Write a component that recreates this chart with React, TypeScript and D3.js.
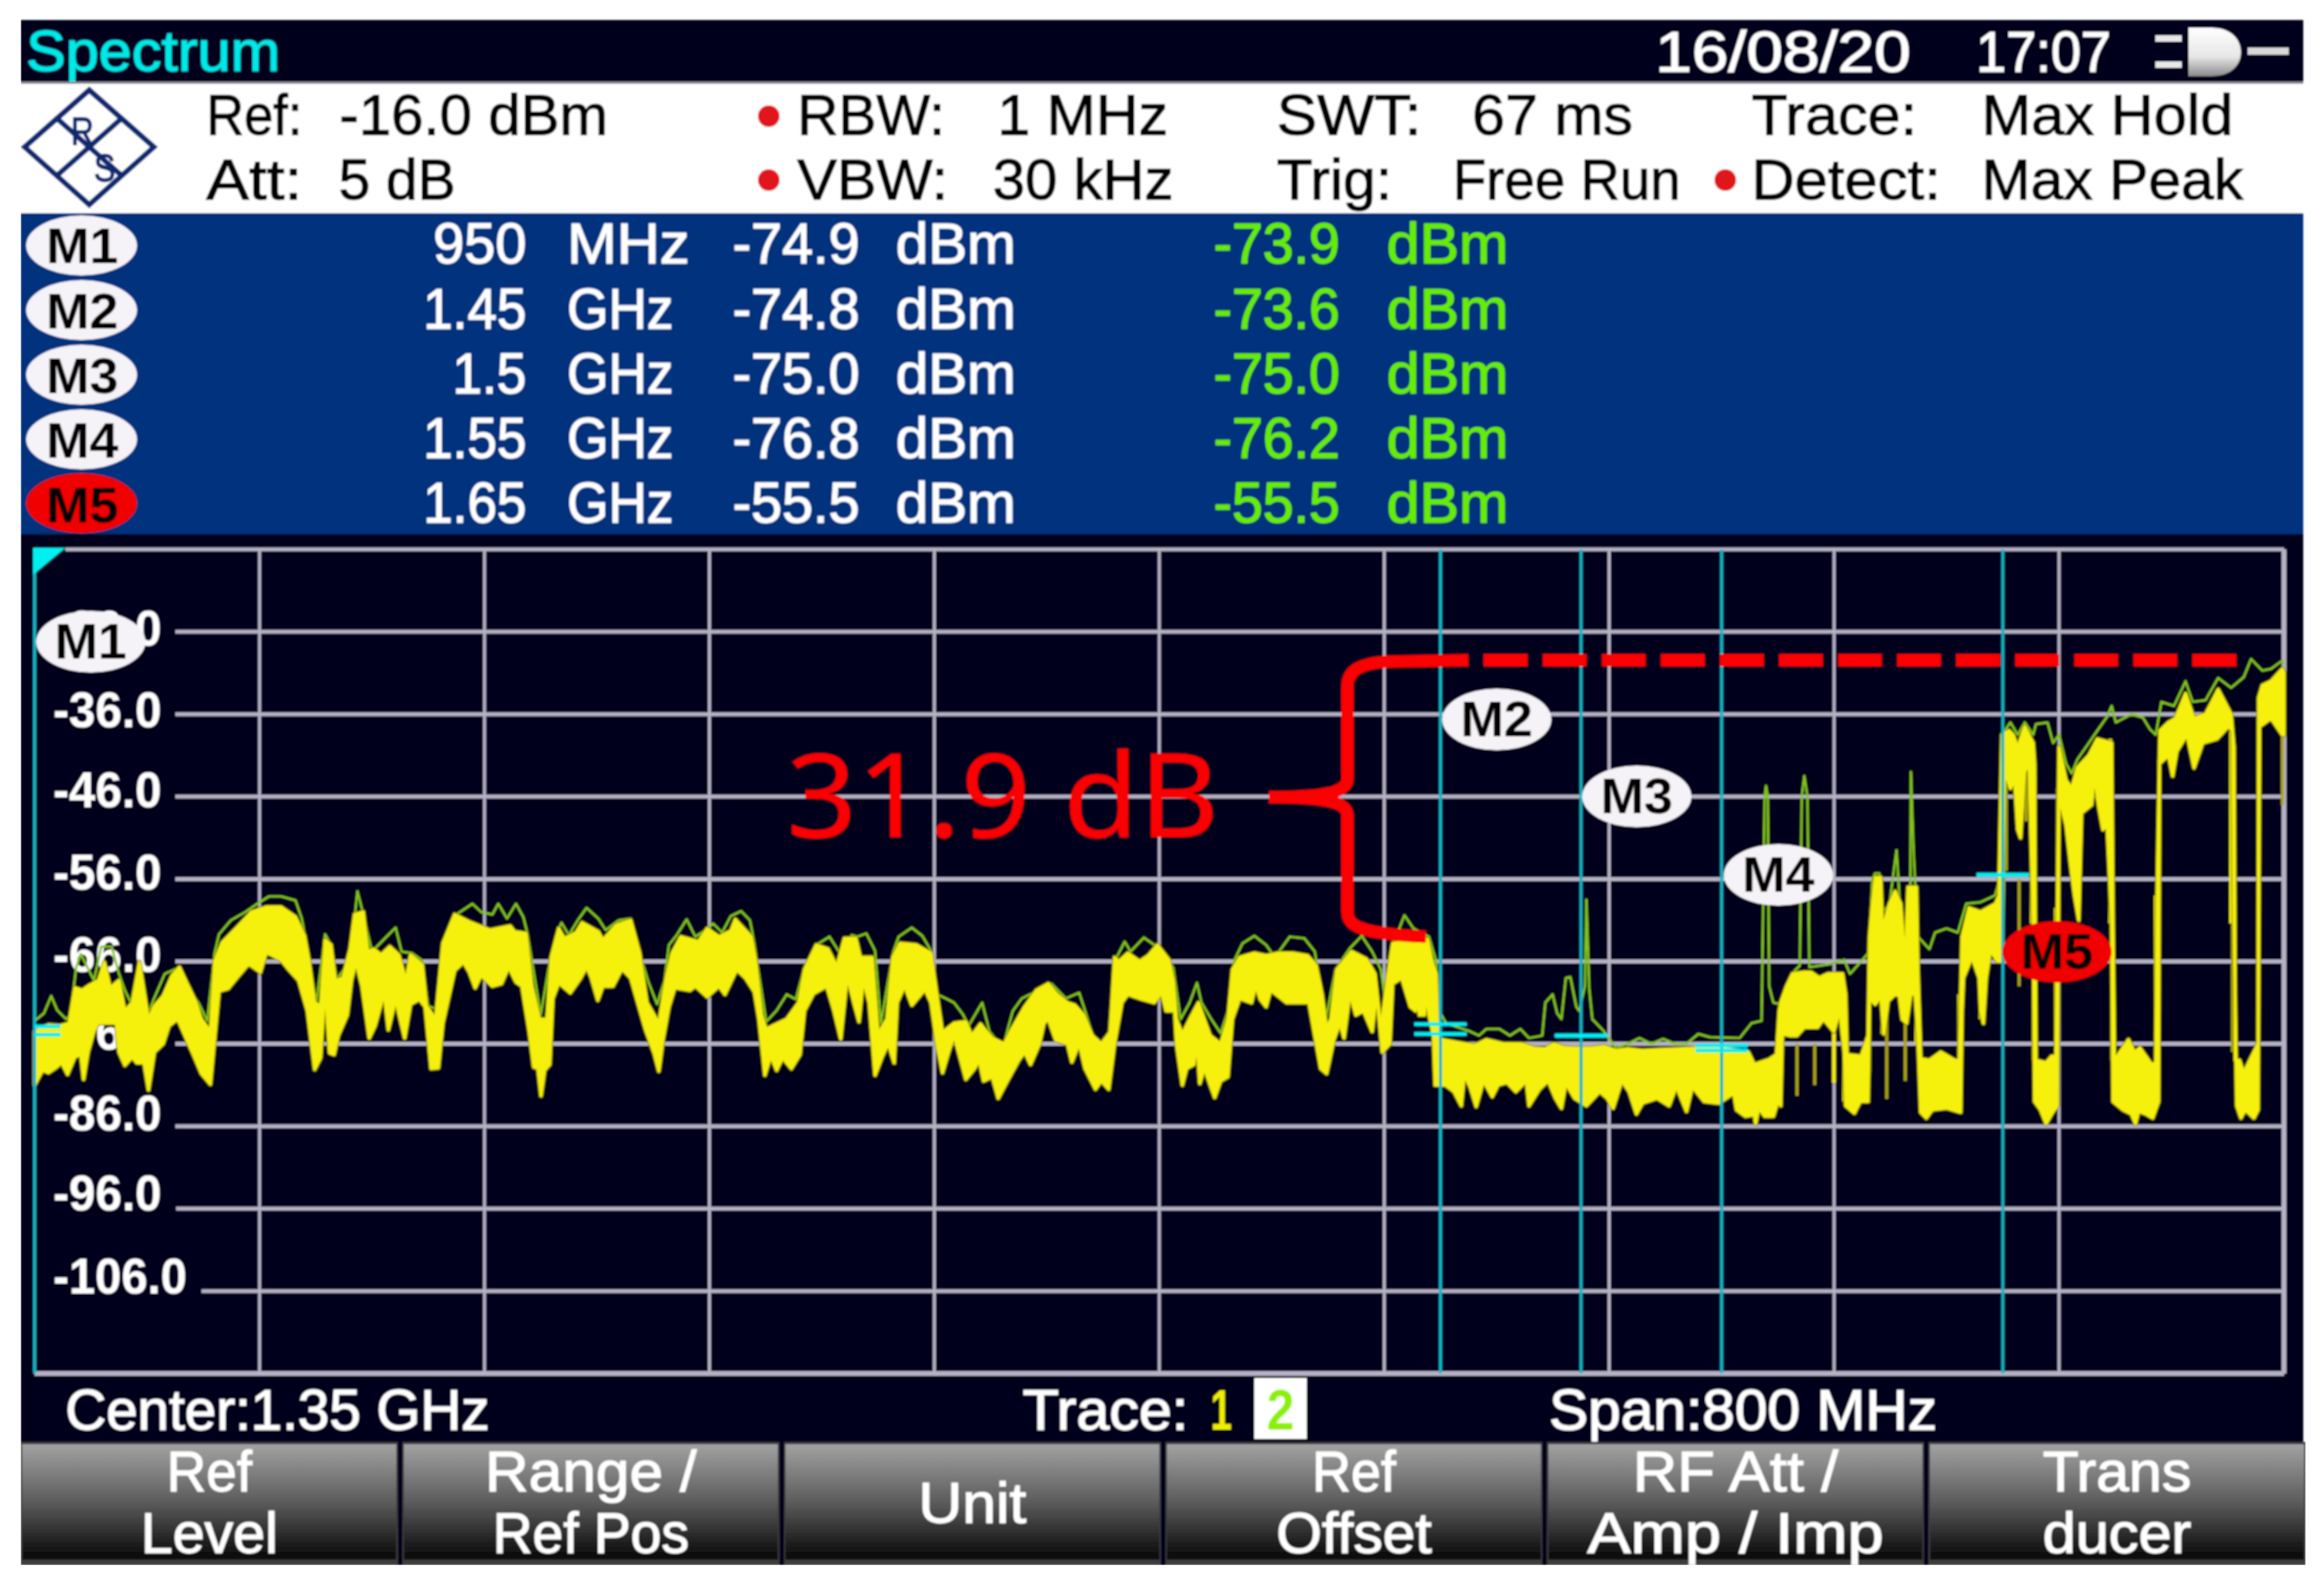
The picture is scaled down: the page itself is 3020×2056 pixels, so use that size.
import * as d3 from "d3";

type Pt = [number, number];

// marker table, read from the instrument readout
const markerNames = ["M1", "M2", "M3", "M4", "M5"];
const markerFreqs = [950, 1450, 1500, 1550, 1650];
const markerFreqText = ["950", "1.45", "1.5", "1.55", "1.65"];
const markerUnits = ["MHz", "GHz", "GHz", "GHz", "GHz"];
const trace1Levels = [-74.9, -74.8, -75.0, -76.8, -55.5];
const trace2Levels = [-73.9, -73.6, -75.0, -76.2, -55.5];

const yTicks = [-26, -36, -46, -56, -66, -76, -86, -96, -106];
const softKeys = [["Ref", "Level"], ["Range /", "Ref Pos"], ["Unit"], ["Ref", "Offset"], ["RF Att /", "Amp / Imp"], ["Trans", "ducer"]];
const softKeyWidths = [[111, 178], [275, 255], [140], [109, 202], [267, 385], [193, 193]];

// trace 1 (clear write), upper edge of the band [MHz, dBm]
const yellowUpper: Pt[] = [
  [950, -74.5], [954.9, -73.7], [959.1, -73.8], [962.2, -73.5], [964.3, -69.2], [966.9, -69.5], [969.5, -68.9], [972.7, -68.3], [974.8, -66.1], [976.9, -69.2], [980, -68.3], [982.1, -72], [984.7, -71], [987.3, -66.1], [990.5, -73], [992.6, -71.4], [995.7, -70.2], [998.9, -67.7], [1001.5, -66.7], [1004.1, -68.6], [1007.2, -70.8], [1009.3, -73], [1012.5, -74.5], [1014, -66], [1016.7, -63.7], [1021.9, -61.9], [1027.1, -60], [1032.4, -59.4], [1037.6, -59.4], [1042.8, -60.6], [1046, -62.9], [1047.6, -65.9], [1049.6, -71], [1051.7, -71.4], [1053.3, -63.4], [1055.4, -64], [1057, -68.3], [1059.6, -68], [1062.2, -64.5], [1063.8, -60.3], [1066.9, -60], [1068.5, -64.8], [1070.6, -64.5], [1073.2, -65.2], [1076.3, -64.2], [1079.5, -65.2], [1082.1, -68.3], [1083.7, -65.2], [1087.9, -66.4], [1089.4, -71.4], [1092.6, -73], [1095.2, -63.8], [1099.4, -60.3], [1104.6, -61.2],
  [1112, -62.2], [1119.1, -61.7], [1120.7, -62.4], [1124.8, -62.6], [1125.9, -66], [1126.9, -69], [1129.6, -73], [1132.2, -73], [1133.7, -65.5], [1136.4, -62], [1138.4, -63.2], [1142.6, -62.5], [1144.7, -61.3], [1150.5, -62.4], [1152.1, -63.4], [1156.8, -61.6], [1162, -61], [1165.2, -65], [1167.8, -71], [1172, -73.5], [1174.6, -68], [1176.7, -65], [1179.8, -63], [1186.1, -63.6], [1189.2, -62], [1193.4, -63], [1197.6, -62.3], [1199.2, -60.9], [1204.9, -63], [1206.5, -66], [1208.6, -72.6], [1210.2, -74.2], [1217.5, -73], [1221.7, -71], [1223.8, -67], [1228, -64], [1232.2, -64.5], [1235.3, -66.6], [1238, -63.2], [1242.1, -63.2], [1243.7, -65.5], [1247.9, -65.5], [1249.4, -72], [1250, -74.8], [1253.1, -73], [1255.2, -65.5], [1257.8, -63.8], [1263.6, -64], [1268.8, -65], [1270.9, -70], [1272.9, -74.6],
  [1277, -73.5], [1281.2, -73.3], [1283.3, -75], [1286.4, -73.6], [1288.5, -74.5], [1290.6, -75.3], [1294.8, -76], [1297.9, -74], [1302.1, -71.5], [1306.3, -69.5], [1310.5, -68.7], [1313.6, -70], [1317.3, -71], [1319.9, -71.3], [1323.1, -72.5], [1326.2, -75], [1329.4, -76], [1332.5, -74.6], [1334.1, -65.5], [1335.6, -66], [1338.8, -65], [1343, -66], [1346.1, -65.3], [1349.3, -64], [1353.4, -65.8], [1355, -68.3], [1356.1, -73], [1358.2, -74.8], [1360.8, -73], [1363.9, -71], [1366, -73], [1368.1, -75], [1371.8, -76], [1374.4, -73], [1376, -67], [1378.6, -65.5], [1383.8, -65], [1388, -65.3], [1392.2, -65], [1397.4, -65], [1402.7, -65.3], [1405.8, -66.5], [1407.9, -70], [1409.5, -74], [1411, -73], [1413.1, -67], [1418.4, -64.8], [1423.6, -65.7], [1426.7, -67.5], [1428.8, -74], [1432, -66], [1433, -63.8],
  [1441.2, -63.5], [1445.4, -63.3], [1447, -66], [1448.5, -67.5], [1449.1, -75], [1450.6, -75.5], [1462.1, -76.2], [1466.3, -75.5], [1472.6, -76], [1478.9, -76], [1483.1, -76.5], [1487.3, -76.6], [1490.4, -76], [1493.6, -76.4], [1496.7, -76.5], [1499.8, -76.5], [1504, -76.5], [1508.2, -76.3], [1512.4, -76.8], [1516.6, -76.6], [1521.8, -76.8], [1528.1, -76.7], [1535.4, -76.6], [1540.7, -76.5], [1550.1, -76.5], [1559.5, -77], [1561.6, -78.5], [1566.9, -77.9], [1569.5, -77.3], [1570.5, -72], [1571, -71], [1573.1, -69], [1575.2, -67.5], [1579.4, -67.3], [1581.8, -67.3], [1584.7, -68], [1587.8, -67.5], [1593, -67.5], [1594.1, -70], [1594.6, -77.3],
  [1599.6, -77.5], [1602.1, -75], [1602.6, -63], [1603.6, -59], [1604.6, -55.8], [1606.6, -55.8], [1607.2, -62], [1609.7, -59], [1611.7, -57.5], [1613.7, -59], [1615.3, -66], [1616.3, -57], [1619.3, -57], [1619.8, -67], [1620.8, -77.8], [1623.9, -78], [1627.9, -77], [1633, -78], [1634.5, -78], [1635, -71], [1635.5, -63], [1638, -59.5], [1642.1, -60], [1647.4, -59], [1648.6, -58], [1649.7, -38.5], [1652.2, -38], [1653.7, -38.5], [1655.3, -40], [1657.8, -37.5], [1660.8, -39.5], [1661.3, -42], [1661.5, -60], [1661.8, -78], [1665.4, -78.3], [1667.4, -77.5], [1668.9, -77.5], [1670, -40], [1672.5, -44], [1674.5, -45], [1676.5, -42.5], [1680.6, -41], [1683.6, -39], [1688.7, -39.5], [1689.2, -62], [1689.7, -78], [1694.7, -75.5], [1696.8, -77], [1698.8, -76.5], [1702.9, -78.5], [1704.4, -78.3], [1704.9, -58], [1705.9, -38], [1708.9, -37], [1711.4, -36.5], [1715, -33.5], [1718, -36.5], [1722.1, -36], [1726.6, -33], [1731.2, -36], [1732.2, -40], [1732.7, -78], [1734.2, -78], [1735.7, -79.5], [1739.3, -77], [1740.8, -76], [1741, -34], [1742.3, -32.5], [1745.4, -32], [1749.4, -30.5], [1750, -31],
];

// trace 1, lower edge of the band [MHz, dBm]
const yellowLower: Pt[] = [
  [950, -81], [952.8, -79.2], [954.9, -79.5], [957.5, -78.9], [959.6, -78.3], [961.7, -79.7], [964.3, -77.6], [966.4, -77.3], [967.4, -80.3], [969, -77], [971.1, -74.5], [972.4, -73.5], [979, -73.5], [980, -77], [982.1, -78.6], [984.7, -77.6], [986.3, -78.3], [988.9, -78.3], [990.5, -81.6], [992.6, -77], [995.7, -76], [997.8, -73.8], [1000.9, -73], [1004.1, -75.5], [1006.2, -77.1], [1009.3, -79.6], [1012.5, -80.9], [1014, -75.5], [1015.6, -69.6], [1018.8, -69.3], [1021.9, -68], [1026.1, -66.3], [1030.3, -67.3], [1032.4, -64.9], [1037.6, -65.8], [1040.7, -67.1], [1043.9, -68.3], [1047, -72], [1049.6, -79.1], [1051.7, -77.7], [1053.3, -69.2], [1054.9, -77.1], [1056.5, -77.3], [1058, -75], [1061.2, -72.5], [1062.7, -68.3], [1064.3, -66.1], [1066.4, -69], [1069, -75.3], [1071.1, -73.8], [1074.3, -69.9], [1075.8, -74.3], [1078.4, -70.7], [1081.6, -75.3], [1083.7, -71.2], [1086.8, -70.6], [1088.9, -71.5], [1091, -79], [1093.6, -78.9], [1095.2, -73.5], [1099.4, -67.1], [1102.5, -66.1], [1104.6, -67.3], [1106.7, -69.2], [1108.8, -67.7],
  [1112.8, -69], [1116, -68.7], [1118.6, -66.7], [1121.2, -68.5], [1123.3, -69], [1125.9, -74.5], [1127.5, -78.8], [1129, -79], [1130.1, -82.3], [1131.4, -79.2], [1133.2, -78.5], [1134.3, -70.5], [1136.4, -68.6], [1140.5, -69.8], [1144.2, -68], [1146.3, -66.7], [1147.9, -67.9], [1150.3, -70.7], [1152.1, -69], [1155.7, -69], [1158.9, -66.9], [1162, -68], [1164.1, -70.5], [1167.3, -74.3], [1170.4, -77.2], [1172, -79.3], [1173.5, -75.5], [1175.6, -71.5], [1177.7, -69.2], [1183, -69.5], [1185, -69], [1189.2, -70.3], [1193.4, -69], [1195.5, -70], [1199.7, -67], [1202.8, -68], [1206, -69.7], [1207.6, -73], [1209.7, -79.8], [1211.8, -77.5], [1213.9, -79.2], [1216, -77.7], [1219.1, -79], [1222.2, -77.3], [1223.8, -72], [1227, -69.9], [1231.7, -69], [1234.3, -72], [1236.7, -75.4], [1239, -67.9], [1241.6, -71.3], [1243.2, -73.3], [1244.7, -68.3], [1246.8, -71], [1248.9, -79.8], [1251.5, -77.5], [1253.6, -76], [1255.7, -78.3], [1256.8, -71], [1259.4, -69], [1262, -71.3], [1266.7, -69.4], [1268.8, -71], [1270.9, -76], [1272.9, -79.5], [1275.1, -77],
  [1277, -75], [1281.2, -80.3], [1284.3, -79], [1285.9, -78], [1287.5, -80.5], [1290.6, -80], [1292.7, -82.6], [1295.8, -80.6], [1300, -78], [1302.1, -77], [1304.2, -78.5], [1307.4, -76], [1309, -73.5], [1310.5, -73], [1313.1, -75.5], [1317.3, -76], [1318.9, -78.2], [1321.5, -76], [1323.6, -79], [1327.3, -81.5], [1329.4, -80.5], [1332, -81.5], [1334.1, -76], [1336.7, -71], [1338.8, -70], [1343, -70.5], [1348.2, -71], [1350.8, -69.8], [1352.4, -72], [1355.5, -72], [1356.1, -76], [1358.2, -81], [1359.7, -79], [1362.3, -78.5], [1363.4, -76], [1364.4, -80.8], [1366, -79], [1369.7, -82.5], [1371.8, -80.5], [1374.4, -80], [1376, -73], [1378.6, -70.5], [1382.8, -71], [1384.3, -69], [1385.9, -70.6], [1388, -71.5], [1389.6, -69.5], [1395.3, -71], [1400.6, -71], [1403.2, -71], [1405.3, -75], [1407.4, -79], [1409.5, -79.6], [1412.1, -75.5], [1414.2, -73.5], [1415.7, -75.3], [1417.8, -70], [1419.9, -72.5], [1422.6, -72], [1425.7, -74.5], [1427.3, -70], [1429.3, -77], [1432, -76], [1433, -68.7], [1436.2, -68], [1439.3, -71.5],
  [1441.2, -72], [1441.7, -70], [1442.5, -72.5], [1444.3, -72.5], [1445, -70], [1445.9, -72.5], [1447.5, -75], [1448.1, -81], [1451.7, -81], [1454.8, -81.8], [1457.4, -83.5], [1458.5, -79.8], [1460.6, -81.3], [1462.7, -83.6], [1465.3, -80.5], [1468.4, -82.4], [1470.5, -81], [1473.7, -80.7], [1476.8, -81.8], [1480.5, -80.5], [1481.5, -83.5], [1485.2, -81.5], [1488.3, -80.5], [1490.9, -82.6], [1493, -83.8], [1494.6, -80.8], [1497.7, -82.6], [1501.9, -83.5], [1506.6, -81.8], [1509.3, -82.6], [1511.4, -83.8], [1514.5, -80.5], [1517.1, -81.8], [1519.7, -84.5], [1521.8, -83.2], [1527, -82.6], [1531.3, -83.5], [1533.9, -81.2], [1537.5, -84.2], [1539.6, -81.2], [1543.8, -83], [1549, -83.2], [1554.3, -82], [1555.3, -84], [1558.5, -84.8], [1561.6, -84.6], [1562.1, -85.7], [1563.2, -83.8], [1565.3, -84.8], [1568.4, -84.8], [1570, -83], [1571, -83.5], [1571.6, -74.8], [1574.2, -75], [1576.8, -75], [1579.4, -74], [1581.8, -74], [1584.1, -74], [1586.2, -73], [1589.9, -74.5], [1592, -72], [1593.6, -77], [1594.1, -83.5],
  [1597.2, -84.4], [1599.3, -83], [1602.1, -83], [1602.6, -70.5], [1604.6, -71.2], [1606.6, -70.3], [1607.7, -74.8], [1609.2, -70.8], [1611.7, -70], [1613.2, -70.2], [1614.2, -73], [1615.8, -73.5], [1617.3, -70], [1618.8, -70], [1619.8, -75], [1620.8, -84.3], [1622.8, -85], [1624.9, -84], [1630, -83.8], [1635, -84.3], [1635.5, -72], [1636, -68], [1639, -65.5], [1641.6, -68], [1642.1, -72], [1643.1, -73.5], [1644.1, -68], [1645.6, -64.7], [1648.2, -66], [1649.7, -66], [1650.7, -43], [1652.7, -45], [1654.2, -44], [1655.3, -50], [1656.3, -51], [1657.8, -43], [1659.3, -42], [1660.8, -61], [1661.3, -83], [1663.4, -84], [1665.4, -85.7], [1667.4, -84.5], [1669.4, -83.5], [1670, -46], [1672.5, -49.5], [1674, -54], [1675.5, -58], [1677, -61], [1678, -48], [1681.6, -47], [1682.6, -43.5], [1684, -47], [1685.6, -50], [1687.1, -49.5], [1688.7, -61], [1689.2, -83], [1692.7, -84], [1695.7, -84.5], [1697.2, -85.7], [1698.3, -84.2], [1700.8, -84.5], [1703.3, -85], [1705.4, -83], [1705.7, -42], [1708.9, -41], [1710.4, -43.5], [1711.9, -40.5], [1715.5, -38.5], [1718, -42.5], [1721.1, -39.5], [1726.1, -39], [1730.2, -37.5], [1731.7, -38], [1732.2, -61], [1733.2, -83.5], [1734.7, -85], [1736.2, -84], [1739.3, -85], [1740.8, -84], [1741.3, -37.5], [1745.4, -36.5], [1749.4, -38.5], [1750, -38.5],
];

// trace 2 (max hold) [MHz, dBm]
const maxHold: Pt[] = [
  [950, -73.2], [953.3, -72.3], [955.9, -70.2], [958, -71.9], [961.2, -73], [962.7, -72.5], [964.8, -66.7], [966.4, -65.1], [971.1, -68.3], [973.7, -64.2], [977.4, -64.2], [980, -67.5], [982.1, -69.5], [984.2, -71], [987.3, -65.9], [990, -72.6], [992.6, -70.4], [996.3, -67.5], [1001.5, -66.7], [1005.1, -69.5], [1008.3, -71], [1011.4, -73.2], [1014, -65], [1015.6, -62.7], [1019.8, -61], [1025, -60], [1029.2, -59], [1033.4, -58.1], [1037.6, -58.1], [1042.8, -58.6], [1045, -60.8], [1047.6, -65.5], [1050.2, -71], [1053.3, -62.7], [1055.4, -64], [1057.5, -68.1], [1062.2, -66], [1064.8, -57.5], [1066.9, -60.3], [1070, -64.8], [1074.3, -63.3], [1078.4, -61.9], [1080.5, -64.8], [1084.2, -65], [1087.9, -65.9], [1090, -71.4], [1093.1, -71.8], [1096.2, -62.9], [1100.4, -60.2], [1105.7, -59], [1108.8, -60], [1112.8, -60.3],
  [1114.9, -59], [1118, -60.8], [1121.2, -59], [1123.8, -60.6], [1125.4, -62.8], [1126.9, -66], [1130, -72.5], [1133.2, -66], [1135.3, -62.9], [1137.4, -61.3], [1140, -62.8], [1143.2, -61], [1146.3, -59.5], [1150.5, -60.8], [1153.1, -62.2], [1157.8, -61], [1162, -60.8], [1165.2, -65], [1168.3, -68.5], [1171.4, -71.2], [1174, -68.3], [1175.6, -64], [1178.2, -62.9], [1181.9, -60.9], [1185, -63], [1188.2, -62.3], [1191.3, -61.4], [1194.5, -62.5], [1197.6, -60.5], [1201.3, -59.9], [1204.4, -61], [1206, -63.8], [1208.1, -68.6], [1210.2, -73.3], [1213.8, -72], [1217.5, -70], [1220.7, -70.6], [1223.8, -66.6], [1228, -64], [1232.7, -63], [1236.4, -65], [1240.6, -62.8], [1242.6, -63], [1245.8, -62.6], [1248.9, -64.7], [1251, -73.5], [1255.2, -65], [1257.3, -63], [1262, -61.9], [1265.7, -62.9], [1268.8, -64.7], [1271, -70], [1274.1, -70.5],
  [1277, -71], [1280.1, -72.4], [1282.2, -73.8], [1287, -71], [1289.6, -74.5], [1294.3, -76.5], [1297.9, -72], [1301.1, -70.5], [1305.3, -69.8], [1311.6, -68.7], [1316.8, -70.5], [1321.5, -69.8], [1323.6, -72], [1326.2, -74.8], [1328.8, -76], [1332, -74.6], [1334.1, -66], [1337.7, -63.6], [1339.8, -64.8], [1344.5, -63.1], [1348.2, -64], [1352.4, -65.2], [1355, -66.8], [1357.6, -73], [1360.8, -71], [1363.4, -68.6], [1365, -71], [1368.1, -72.8], [1371.8, -74.7], [1374.4, -72], [1376.5, -66], [1379.6, -63.8], [1383.8, -62.9], [1388, -64], [1391.1, -65.5], [1396.4, -63], [1401.6, -63.2], [1405.3, -64.8], [1406.8, -68], [1409.5, -72.6], [1412.6, -67], [1417.8, -64.4], [1422, -62.9], [1425.7, -64.8], [1428.8, -67], [1430.4, -71], [1433, -64], [1437.2, -60.4], [1440.4, -62],
  [1445.9, -63], [1448.5, -66], [1449.5, -72], [1452, -73.5], [1460.6, -74.5], [1463.7, -75], [1466.3, -74.2], [1471, -74.2], [1474.7, -75], [1478.4, -74.2], [1481.5, -75.3], [1486.2, -75], [1487.3, -71], [1489.9, -70], [1491.5, -72.3], [1493, -73], [1494.6, -68], [1496.2, -67.9], [1498.3, -71.5], [1499.3, -72], [1501.4, -69], [1501.9, -58.5], [1502.9, -69.3], [1504, -73], [1508.2, -74.5], [1512.4, -76.5], [1516.6, -76], [1520.8, -75.3], [1525, -76], [1529.2, -75.4], [1533.4, -76], [1537.5, -76], [1541.7, -74.8], [1545.9, -75.2], [1556.4, -75.3], [1560.6, -73.5], [1564.2, -73.2], [1565.3, -46], [1565.8, -44.7], [1566.4, -46], [1566.9, -69], [1568.4, -71], [1571, -71.2], [1573.1, -69.5], [1575.8, -67.2], [1577.8, -66.5], [1578.5, -46], [1579.4, -43.5], [1580.5, -46], [1581.2, -66.7], [1585.2, -66.5], [1588.8, -66.3], [1593.6, -65.8], [1595.6, -67.5],
  [1596.5, -67.2], [1600.6, -65.6], [1602.1, -65], [1603.6, -56], [1604.6, -55.3], [1606.1, -55.3], [1607.2, -60], [1609.7, -59], [1612.2, -52.5], [1613.2, -58], [1614.7, -64], [1617.1, -60], [1617.3, -43], [1618.3, -53], [1619.8, -63], [1623.9, -64.5], [1625.9, -62.5], [1630, -62], [1634, -62.5], [1637, -59], [1642.1, -58.8], [1647.2, -58], [1649.2, -55.6], [1649.7, -38.5], [1652.7, -37], [1655.3, -38.5], [1657.8, -37], [1660.8, -38.5], [1661.8, -37.2], [1665.9, -37], [1667.9, -39.5], [1670, -38.5], [1672.5, -42], [1674.5, -43.2], [1676.5, -41.5], [1680.6, -39.5], [1683.6, -38], [1687.1, -36.3], [1688.7, -35], [1690.2, -37], [1695.7, -36], [1699.8, -36.4], [1702.3, -37.8], [1704.4, -38.5], [1706.4, -34.5], [1710.9, -35], [1715, -32], [1717.5, -34.5], [1722.1, -34.3], [1726.6, -31.6], [1731.2, -32.8], [1735.7, -31.5], [1738.3, -29.3], [1742.3, -30.7], [1745.4, -30.5], [1749.4, -29.5], [1750, -30],
];

// thin vertical excursions of trace 1 [MHz, top dBm, bottom dBm]
const oliveStems: [number, number, number][] = [
  [1576.8, -76, -82.3], [1583.1, -76, -81], [1602.6, -70.5, -79.5], [1608.7, -70, -82.7], [1615.3, -70, -80.5], [1635.5, -63, -72], [1651.2, -43, -55], [1655.8, -56, -69], [1658.3, -43, -49], [1660.8, -61.4, -78], [1669.4, -45, -59.5], [1677, -48, -61], [1688.7, -61.4, -78], [1705.4, -41.5, -58], [1731.7, -61.4, -77], [1740.8, -37, -77.5], [1749.4, -38.5, -47],
];
const brightStems: [number, number, number][] = [
  [1589.9, -74.5, -80.7], [1593.6, -71.4, -83], [1602.4, -74, -80], [1607.2, -70, -74.8], [1619.3, -66, -76], [1634.5, -70, -84], [1642.1, -66, -73], [1660.3, -40, -61.4], [1668.9, -59.5, -78], [1688.2, -39, -61.4], [1704.4, -58, -78], [1731.2, -37, -61.4],
];

// peak and valley levels the annotation points at
const gapTop = -29.45;
const gapBottom = -63;

const W = 3020;
const H = 2056;
const plot = { left: 45, right: 2968, top: 714, bottom: 1785 };
const x = d3.scaleLinear().domain([950, 1750]).range([plot.left, plot.right]);
const y = d3.scaleLinear().domain([-16, -116]).range([plot.top, plot.bottom]);
const xGrid = d3.range(950, 1751, 80);
const yGridLeft = [228, 228, 228, 228, 228, 228, 228, 229, 262];
const yLabelDy = [18, 17, 14, 14, 13, 7, 5, 2, 3];

const line = d3.line<Pt>().x((d) => x(d[0])).y((d) => y(d[1]));
const bandPath = line(yellowUpper) + "L" + line([...yellowLower].reverse())!.slice(1) + "Z";

const FONT = "'Liberation Sans', Arial, sans-serif";
const BG = "#00001a";
const GRID = "#b6b2c6";
const CURSOR = "#12b2c4";

function T(props: { x: number; y: number; w?: number; size?: number; fill?: string; anchor?: string; weight?: string; children: any }) {
  const { x: tx, y: ty, w, size = 75, fill = "#fff", anchor = "start", weight = "normal", children } = props;
  return (
    <text x={tx} y={ty} fontSize={size} fill={fill} textAnchor={anchor} fontWeight={weight} fontFamily={FONT}
      stroke={weight === "bold" ? "none" : fill} strokeWidth={1.3}
      {...(w ? { textLength: w, lengthAdjust: "spacingAndGlyphs" } : {})}>
      {children}
    </text>
  );
}

function Oval({ cx, cy, name, red }: { cx: number; cy: number; name: string; red?: boolean }) {
  return (
    <g>
      <ellipse cx={cx} cy={cy} rx={71} ry={40} fill={red ? "#f00000" : "#f5f3f7"} />
      <T x={cx} y={cy + 22} w={94} size={64} fill="#000" anchor="middle" weight="bold">{name}</T>
    </g>
  );
}

const rowBase = [342, 427, 511, 595, 679];
const rowOval = [319, 403, 487, 571, 654];
const freqW = [121, 134, 96, 134, 134];
const plotOvals: Pt[] = [[118, 834], [1945, 935], [2127, 1035], [2311, 1137], [2673, 1237]];

export default function App() {
  const dashes = d3.range(13).map((i) => 1928 + i * 76.75);
  return (
    <svg width={W} height={H} viewBox={`0 0 ${W} ${H}`} style={{ position: "absolute", left: 0, top: 0, background: "#fff" }}>
      <defs>
        <filter id="soft" x="0" y="0" width="100%" height="100%">
          <feGaussianBlur stdDeviation="1" />
        </filter>
        <linearGradient id="key" x1="0" y1="0" x2="0" y2="1">
          <stop offset="0" stopColor="#a2a2a2" />
          <stop offset="0.5" stopColor="#5c5c5c" />
          <stop offset="1" stopColor="#060606" />
        </linearGradient>
        <linearGradient id="plug" x1="0" y1="0" x2="0" y2="1">
          <stop offset="0" stopColor="#ffffff" />
          <stop offset="0.6" stopColor="#e6e6e6" />
          <stop offset="1" stopColor="#8c8c8c" />
        </linearGradient>
      </defs>
      <g filter="url(#soft)">
        <rect x={27} y={26} width={2966} height={2008} fill={BG} />
        {/* title bar */}
        <T x={34} y={92} w={330} fill="#00e8e8">Spectrum</T>
        <T x={2151} y={93} w={332}>16/08/20</T>
        <T x={2568} y={93} w={175}>17:07</T>
        <rect x={2801} y={46} width={34} height={8} fill="#e8e8e8" />
        <rect x={2801} y={80} width={34} height={8} fill="#e8e8e8" />
        <path d="M2844,36 H2874 C2900,36 2912,52 2912,68 C2912,84 2900,99 2874,99 H2844 Z" fill="url(#plug)" />
        <rect x={2921} y={62} width={53} height={9} fill="#d8d8d8" />

        {/* settings strip */}
        <rect x={27} y={108} width={2966} height={169} fill="#fff" />
        <rect x={27} y={106} width={2966} height={3} fill="#8a8a94" />
        <g stroke="#0e2a72" strokeWidth={7} fill="none">
          <path d="M116,117 L200,191 L116,266 L32,191 Z" />
          <path d="M73,153 L159,229" />
          <path d="M159,153 L73,229" />
        </g>
        <T x={92} y={188} size={50} w={30} fill="#0e2a72">R</T>
        <T x={122} y={236} size={50} w={28} fill="#0e2a72">S</T>
        <T x={268} y={175} w={125} fill="#000">Ref:</T>
        <T x={441} y={175} w={349} fill="#000">-16.0 dBm</T>
        <T x={268} y={259} w={125} fill="#000">Att:</T>
        <T x={440} y={259} w={152} fill="#000">5 dB</T>
        <circle cx={999} cy={151} r={14} fill="#e0141c" />
        <circle cx={999} cy={234} r={14} fill="#e0141c" />
        <circle cx={2242} cy={234} r={14} fill="#e0141c" />
        <T x={1036} y={175} w={192} fill="#000">RBW:</T>
        <T x={1296} y={175} w={222} fill="#000">1 MHz</T>
        <T x={1036} y={259} w={196} fill="#000">VBW:</T>
        <T x={1290} y={259} w={235} fill="#000">30 kHz</T>
        <T x={1659} y={175} w={188} fill="#000">SWT:</T>
        <T x={1913} y={175} w={209} fill="#000">67 ms</T>
        <T x={2276} y={175} w={215} fill="#000">Trace:</T>
        <T x={2575} y={175} w={327} fill="#000">Max Hold</T>
        <T x={1659} y={259} w={150} fill="#000">Trig:</T>
        <T x={1888} y={259} w={296} fill="#000">Free Run</T>
        <T x={2276} y={259} w={246} fill="#000">Detect:</T>
        <T x={2575} y={259} w={340} fill="#000">Max Peak</T>

        {/* marker table */}
        <rect x={27} y={277} width={2966} height={417} fill="#00307e" />
        {markerNames.map((name, i) => (
          <g key={name}>
            <ellipse cx={106} cy={rowOval[i]} rx={72} ry={39} fill={i === 4 ? "#f00000" : "#f5f3f7"} />
            <T x={107} y={rowBase[i]} w={94} size={64} fill="#000" anchor="middle" weight="bold">{name}</T>
            <T x={684} y={rowBase[i]} w={freqW[i]} anchor="end">{markerFreqText[i]}</T>
            <T x={737} y={rowBase[i]} w={markerUnits[i] === "MHz" ? 159 : 138}>{markerUnits[i]}</T>
            <T x={952} y={rowBase[i]} w={165}>{trace1Levels[i].toFixed(1)}</T>
            <T x={1164} y={rowBase[i]} w={156}>dBm</T>
            <T x={1577} y={rowBase[i]} w={164} fill="#66ee00">{trace2Levels[i].toFixed(1)}</T>
            <T x={1802} y={rowBase[i]} w={158} fill="#66ee00">dBm</T>
          </g>
        ))}

        {/* graticule */}
        {yTicks.map((v, i) => (
          <line key={v} x1={yGridLeft[i]} x2={plot.right} y1={y(v)} y2={y(v)} stroke={GRID} strokeWidth={5} />
        ))}
        <line x1={85} x2={plot.right} y1={plot.top} y2={plot.top} stroke={GRID} strokeWidth={5} />
        <line x1={plot.left} x2={plot.right} y1={plot.bottom} y2={plot.bottom} stroke={GRID} strokeWidth={6} />
        {xGrid.slice(1).map((f) => (
          <line key={f} x1={x(f)} x2={x(f)} y1={plot.top} y2={plot.bottom} stroke={GRID} strokeWidth={f === 1750 ? 6 : 4} />
        ))}
        {yTicks.map((v, i) => (
          <T key={v} x={69} y={y(v) + yLabelDy[i]} w={v === -106 ? 174 : 141} size={64} weight="bold">{v.toFixed(1)}</T>
        ))}

        {/* traces */}
        <path d={line(maxHold)!} fill="none" stroke="#82c41c" strokeWidth={3} strokeLinejoin="round" />
        {oliveStems.map((d, i) => (
          <line key={i} x1={x(d[0])} x2={x(d[0])} y1={y(d[1])} y2={y(d[2])} stroke="#aaa212" strokeWidth={4} />
        ))}
        {brightStems.map((d, i) => (
          <line key={i} x1={x(d[0])} x2={x(d[0])} y1={y(d[1])} y2={y(d[2])} stroke="#f4ec10" strokeWidth={5} />
        ))}
        <path d={bandPath} fill="none" stroke="#8e8a10" strokeWidth={6} strokeLinejoin="round" />
        <path d={bandPath} fill="#f6f010" stroke="#f6f010" strokeWidth={3.5} strokeLinejoin="round" />

        {/* marker cursors and level ticks */}
        {markerFreqs.map((f) => (
          <line key={f} x1={x(f)} x2={x(f)} y1={plot.top} y2={plot.bottom} stroke={CURSOR} strokeWidth={4} />
        ))}
        <path d={`M${plot.left - 2},${plot.top - 2} H85 L${plot.left - 2},747 Z`} fill="#00f0f0" />
        {markerFreqs.map((f, i) => (
          <g key={f} stroke="#00eef4" strokeWidth={5}>
            <line x1={Math.max(x(f) - 34, plot.left)} x2={x(f) + 34} y1={y(trace1Levels[i])} y2={y(trace1Levels[i])} />
            <line x1={Math.max(x(f) - 34, plot.left)} x2={x(f) + 34} y1={y(trace2Levels[i])} y2={y(trace2Levels[i])} />
          </g>
        ))}
        {markerNames.map((name, i) => (
          <Oval key={name} cx={plotOvals[i][0]} cy={plotOvals[i][1]} name={name} red={i === 4} />
        ))}

        {/* gap annotation */}
        <g fill="none" stroke="#fb0000" strokeWidth={16}>
          {dashes.map((d) => (
            <line key={d} x1={d} x2={d + 57} y1={y(gapTop)} y2={y(gapTop)} />
          ))}
          <path d={`M1908,${y(gapTop)} L1800,${y(gapTop) + 2} C1765,${y(gapTop) + 5} 1751,${y(gapTop) + 14} 1751,${y(gapTop) + 34} L1751,1012 C1751,1028 1730,1036 1649,1036 C1730,1036 1751,1044 1751,1060 L1751,1185 C1751,1205 1770,${y(gapBottom) - 4} 1853,${y(gapBottom)}`} />
        </g>
        <text x={1022} y={1088} fontSize={151} fill="#fb0000" fontFamily="'Noto Sans', sans-serif" textLength={562} lengthAdjust="spacingAndGlyphs">31.9 dB</text>

        {/* status line */}
        <T x={85} y={1858} w={551}>Center:1.35 GHz</T>
        <T x={1329} y={1858} w={215}>Trace:</T>
        <T x={1573} y={1858} w={28} fill="#f0ee00" weight="bold">1</T>
        <rect x={1630} y={1791} width={68} height={79} fill="#fff" />
        <T x={1664} y={1858} w={36} fill="#8cf000" anchor="middle" weight="bold">2</T>
        <T x={2013} y={1858} w={504}>Span:800 MHz</T>

        {/* soft keys */}
        {softKeys.map((labels, i) => {
          const left = 29 + i * 495.8;
          const cx = left + 243;
          return (
            <g key={i}>
              <rect x={left - 2} y={1874} width={490} height={160} fill="#3c3c3c" />
              <rect x={left} y={1877} width={486} height={150} fill="url(#key)" />
              {labels.length === 1 ? (
                <T x={cx} y={1979} w={softKeyWidths[i][0]} anchor="middle">{labels[0]}</T>
              ) : (
                <>
                  <T x={cx} y={1938} w={softKeyWidths[i][0]} anchor="middle">{labels[0]}</T>
                  <T x={cx} y={2018} w={softKeyWidths[i][1]} anchor="middle">{labels[1]}</T>
                </>
              )}
            </g>
          );
        })}
      </g>
    </svg>
  );
}
